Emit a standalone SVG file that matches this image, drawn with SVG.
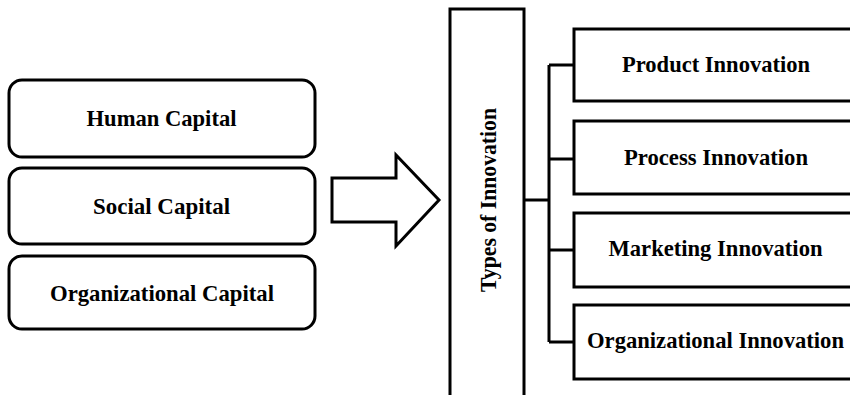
<svg xmlns="http://www.w3.org/2000/svg" width="850" height="395" viewBox="0 0 850 395">
<style>
.box{fill:#fff;stroke:#000;stroke-width:3}
.t{font-family:"Liberation Serif","Times New Roman",serif;font-weight:bold;font-size:24px;fill:#000;text-anchor:middle}
.c{fill:none;stroke:#000;stroke-width:3}
</style>
<rect width="850" height="395" fill="#fff"/>
<g id="human-capital"><rect class="box" x="9" y="80" width="306" height="77" rx="13"/><text class="t" x="161.5" y="126" textLength="150" lengthAdjust="spacingAndGlyphs">Human Capital</text></g>
<g id="social-capital"><rect class="box" x="9" y="168" width="306" height="76" rx="13"/><text class="t" x="161.5" y="213.5" textLength="137" lengthAdjust="spacingAndGlyphs">Social Capital</text></g>
<g id="organizational-capital"><rect class="box" x="9" y="256" width="306" height="73" rx="13"/><text class="t" x="162" y="300.5" textLength="224" lengthAdjust="spacingAndGlyphs">Organizational Capital</text></g>
<g id="arrow"><polygon class="box" points="332,178 396,178 396,155 439,200 396,246 396,222 332,222"/></g>
<g id="types-of-innovation"><rect class="box" x="450" y="9" width="74" height="400"/><text class="t" x="496" y="200" transform="rotate(-90 496 200)" textLength="184" lengthAdjust="spacingAndGlyphs">Types of Innovation</text></g>
<g id="connectors">
<path class="c" d="M524,200 H549 M549,65 V342 M549,65 H574 M549,159 H574 M549,250 H574 M549,342 H574"/>
</g>
<g id="product-innovation"><rect class="box" x="574" y="29" width="290" height="72"/><text class="t" x="716" y="71.5" textLength="188" lengthAdjust="spacingAndGlyphs">Product Innovation</text></g>
<g id="process-innovation"><rect class="box" x="574" y="121" width="290" height="73"/><text class="t" x="716" y="165" textLength="184" lengthAdjust="spacingAndGlyphs">Process Innovation</text></g>
<g id="marketing-innovation"><rect class="box" x="574" y="213" width="290" height="74"/><text class="t" x="715.5" y="256" textLength="214" lengthAdjust="spacingAndGlyphs">Marketing Innovation</text></g>
<g id="organizational-innovation"><rect class="box" x="574" y="305" width="290" height="74"/><text class="t" x="715.5" y="348" textLength="257" lengthAdjust="spacingAndGlyphs">Organizational Innovation</text></g>
</svg>
